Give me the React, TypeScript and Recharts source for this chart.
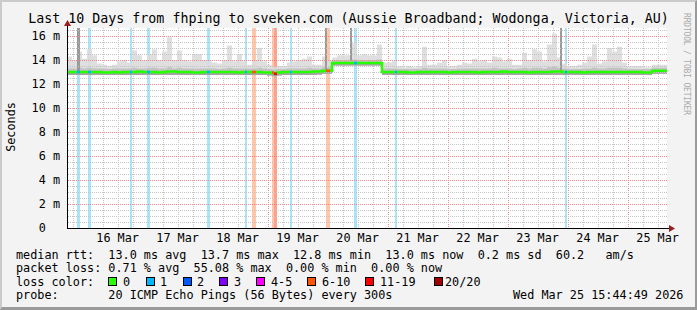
import React from 'react';
import {
  ComposedChart,
  Area,
  Line,
  XAxis,
  YAxis,
  ReferenceArea,
  CartesianGrid,
} from 'recharts';

const FONT = '"DejaVu Sans Mono", monospace';

// time axis in "day of March"; graph ends Wed Mar 25 15:44:49, covers 10 days
const END = 25 + (15 + 44 / 60 + 49 / 3600) / 24;
const START = END - 10;
const STEP = 1 / 12; // 2-hour bins

// ---- data (one value per 2 h bin) ----
const smokeHi = [
  14.3, 14.0, 14.7, 14.1, 14.9, 14.4, 13.7, 13.6, 13.5, 13.6,
  13.9, 14.0, 13.8, 14.8, 14.4, 14.0, 14.5, 14.9, 14.0, 14.7,
  15.9, 14.0, 14.8, 14.0, 13.9, 14.5, 14.5, 14.0, 13.9, 13.8,
  13.7, 14.0, 15.2, 13.9, 14.5, 13.9, 13.6, 14.0, 15.0, 13.9,
  13.6, 13.4, 13.5, 13.5, 13.8, 13.9, 14.0, 14.1, 14.3, 13.6,
  13.6, 14.3, 14.0, 14.2, 14.4, 14.4, 14.4, 15.4, 14.4, 14.5,
  14.4, 14.4, 15.3, 13.8, 13.8, 13.9, 13.5, 13.4, 13.5, 13.4,
  13.5, 15.1, 13.6, 13.6, 13.8, 14.0, 13.5, 13.5, 13.6, 13.8,
  13.7, 14.1, 13.9, 14.0, 13.8, 14.3, 14.2, 13.9, 14.1, 13.6,
  13.6, 14.6, 14.0, 14.9, 14.7, 13.9, 15.3, 16.2, 14.2, 13.7,
  13.5, 13.5, 13.6, 13.8, 14.3, 15.3, 13.7, 13.9, 15.0, 14.7,
  15.1, 13.8, 13.5, 13.5, 13.5, 13.4, 13.4, 13.6, 13.6, 13.6,
];

const smokeMid = [
  13.3, 13.3, 13.35, 13.3, 13.35, 13.3, 13.3, 13.3, 13.25, 13.3,
  13.3, 13.3, 13.3, 13.35, 13.3, 13.3, 13.35, 13.35, 13.3, 13.3,
  13.4, 13.3, 13.35, 13.3, 13.3, 13.3, 13.3, 13.3, 13.3, 13.3,
  13.25, 13.3, 13.35, 13.3, 13.3, 13.3, 13.3, 13.3, 13.35, 13.3,
  13.25, 13.2, 13.25, 13.25, 13.3, 13.3, 13.3, 13.3, 13.35, 13.3,
  13.3, 13.4, 13.4, 14.0, 14.0, 14.0, 14.0, 14.05, 14.0, 14.0,
  14.0, 14.0, 14.05, 13.3, 13.3, 13.3, 13.25, 13.25, 13.25, 13.25,
  13.25, 13.35, 13.3, 13.3, 13.3, 13.3, 13.25, 13.25, 13.3, 13.3,
  13.3, 13.3, 13.3, 13.3, 13.3, 13.35, 13.3, 13.3, 13.3, 13.25,
  13.3, 13.35, 13.3, 13.35, 13.35, 13.3, 13.4, 13.45, 13.35, 13.3,
  13.25, 13.25, 13.25, 13.3, 13.3, 13.35, 13.3, 13.3, 13.35, 13.35,
  13.35, 13.3, 13.25, 13.25, 13.25, 13.25, 13.25, 13.35, 13.35, 13.35,
];

const smokeLo = [
  12.75, 12.75, 12.75, 12.75, 12.75, 12.75, 12.75, 12.75, 12.75, 12.75,
  12.75, 12.75, 12.75, 12.75, 12.75, 12.75, 12.75, 12.75, 12.75, 12.75,
  12.75, 12.75, 12.75, 12.75, 12.75, 12.75, 12.75, 12.75, 12.75, 12.75,
  12.75, 12.75, 12.75, 12.75, 12.75, 12.75, 12.75, 12.75, 12.75, 12.75,
  12.7, 12.65, 12.7, 12.75, 12.75, 12.75, 12.75, 12.75, 12.75, 12.75,
  12.8, 12.85, 12.85, 13.55, 13.55, 13.55, 13.55, 13.55, 13.55, 13.55,
  13.55, 13.55, 13.55, 12.75, 12.75, 12.75, 12.75, 12.75, 12.75, 12.75,
  12.75, 12.75, 12.75, 12.75, 12.75, 12.75, 12.75, 12.75, 12.75, 12.75,
  12.75, 12.75, 12.75, 12.75, 12.75, 12.75, 12.75, 12.75, 12.75, 12.75,
  12.75, 12.75, 12.75, 12.75, 12.75, 12.75, 12.75, 12.75, 12.75, 12.75,
  12.75, 12.75, 12.75, 12.75, 12.75, 12.75, 12.75, 12.75, 12.75, 12.75,
  12.75, 12.75, 12.75, 12.75, 12.75, 12.75, 12.75, 12.85, 12.85, 12.85,
];

const smokeDark = [
  12.92, 12.92, 12.92, 12.92, 12.92, 12.92, 12.92, 12.88, 12.88, 12.92,
  12.88, 12.92, 12.92, 12.92, 12.95, 12.92, 12.92, 12.92, 12.88, 12.92,
  12.95, 12.95, 12.92, 12.92, 12.92, 12.88, 12.88, 12.92, 12.92, 12.92,
  12.92, 12.92, 12.92, 12.92, 12.88, 12.92, 12.92, 12.92, 12.92, 12.88,
  12.88, 12.82, 12.88, 12.92, 12.92, 12.92, 12.92, 12.92, 12.92, 12.95,
  12.95, 13.0, 13.0, 13.68, 13.68, 13.68, 13.68, 13.68, 13.68, 13.68,
  13.68, 13.68, 13.68, 12.92, 12.92, 12.92, 12.92, 12.92, 12.88, 12.88,
  12.92, 12.92, 12.92, 12.92, 12.92, 12.92, 12.88, 12.92, 12.92, 12.92,
  12.92, 12.92, 12.88, 12.92, 12.92, 12.92, 12.92, 12.95, 12.92, 12.92,
  12.92, 12.92, 12.88, 12.92, 12.92, 12.92, 12.92, 12.95, 12.95, 12.92,
  12.92, 12.92, 12.92, 12.88, 12.92, 12.92, 12.92, 12.92, 12.92, 12.92,
  12.92, 12.92, 12.92, 12.92, 12.92, 12.88, 12.88, 13.0, 13.0, 13.0,
];

const medianRtt = [
  13.0, 13.0, 13.0, 13.0, 13.0, 13.0, 13.0, 12.95, 12.95, 13.0,
  12.95, 13.0, 13.0, 13.0, 13.05, 13.0, 13.0, 13.0, 12.95, 13.0,
  13.05, 13.05, 13.0, 13.0, 13.0, 12.95, 12.95, 13.0, 13.0, 13.0,
  13.0, 13.0, 13.0, 13.0, 12.95, 13.0, 13.0, 13.0, 13.0, 12.95,
  12.95, 12.9, 12.95, 13.0, 13.0, 13.0, 13.0, 13.0, 13.0, 13.05,
  13.05, 13.1, 13.1, 13.75, 13.75, 13.75, 13.75, 13.75, 13.75, 13.75,
  13.75, 13.75, 13.75, 13.0, 13.0, 13.0, 13.0, 13.0, 12.95, 12.95,
  13.0, 13.0, 13.0, 13.0, 13.0, 13.0, 12.95, 13.0, 13.0, 13.0,
  13.0, 13.0, 12.95, 13.0, 13.0, 13.0, 13.0, 13.05, 13.0, 13.0,
  13.0, 13.0, 12.95, 13.0, 13.0, 13.0, 13.0, 13.05, 13.05, 13.0,
  13.0, 13.0, 13.0, 12.95, 13.0, 13.0, 13.0, 13.0, 13.0, 13.0,
  13.0, 13.0, 13.0, 13.0, 13.0, 12.95, 12.95, 13.1, 13.1, 13.1,
];

// loss periods (day of March), their loss class and the median at that time
const lossFrom = [15.6561, 15.8228, 16.0061, 16.7061, 16.9894, 17.9894, 18.6228, 18.7394, 19.0728, 19.1061, 19.3728, 19.9728, 20.4394, 21.1228, 23.9561];
const lossTo = [15.6894, 15.8728, 16.0561, 16.7394, 17.0394, 18.0394, 18.6561, 18.8061, 19.1061, 19.1561, 19.4061, 20.0394, 20.4894, 21.1561, 23.9894];
const lossLevel = ['1', '1', '1', '1', '1', '1', '1', '6-10', '6-10', '11-19', '1', '6-10', '1', '1', '1'];
const lossMedian = [13.0, 13.0, 13.0, 13.0, 13.0, 13.0, 13.0, 13.0, 12.95, 12.85, 13.0, 13.1, 13.75, 13.0, 13.0];

// dark smoke columns reaching the top
const spikeFrom = [15.8228, 19.9561, 20.3728, 23.8728];
const spikeTo = [15.8728, 19.9894, 20.4061, 23.9061];
const spikeBase = [13.1, 13.2, 13.9, 13.1];

// axes
const Y_TOP = 16.6667;
const Y_PX = 1 / 12; // one pixel in y units (12 px per ms)
const yTicks = [0, 2, 4, 6, 8, 10, 12, 14, 16];
const yTickLabels = ['0', '2 m', '4 m', '6 m', '8 m', '10 m', '12 m', '14 m', '16 m'];
const dayLabelTicks = [16.5, 17.5, 18.5, 19.5, 20.5, 21.5, 22.5, 23.5, 24.5, 25.5];
const dayLabels = ['16 Mar', '17 Mar', '18 Mar', '19 Mar', '20 Mar', '21 Mar', '22 Mar', '23 Mar', '24 Mar', '25 Mar'];
const midnights = [16, 17, 18, 19, 20, 21, 22, 23, 24, 25];

// legend text
const title = 'Last 10 Days from fhping to sveken.com (Aussie Broadband; Wodonga, Victoria, AU)';
const legendLine1 = 'median rtt:  13.0 ms avg  13.7 ms max  12.8 ms min  13.0 ms now  0.2 ms sd  60.2   am/s';
const legendLine2 = 'packet loss: 0.71 % avg  55.08 % max  0.00 % min  0.00 % now';
const legendLine3 = 'loss color:';
const lossColorNames = ['0', '1', '2', '3', '4-5', '6-10', '11-19', '20/20'];
const lossColorValues = ['#26ff00', '#00b8ff', '#0059ff', '#7e00ff', '#ff00ff', '#ff5500', '#ff0000', '#a10000'];
const probeLine = 'probe:       20 ICMP Echo Pings (56 Bytes) every 300s';
const stampLine = 'Wed Mar 25 15:44:49 2026';

const stripeColor: Record<string, string> = { '1': '#a8e5fa', '6-10': '#ffc6aa', '11-19': '#ffa08e' };
const markColor: Record<string, string> = { '1': '#00b8ff', '6-10': '#ff5500', '11-19': '#ff0000' };

function buildRows() {
  const rows: any[] = smokeHi.map((h, i) => ({
    t: START + i * STEP,
    light: [smokeLo[i], h],
    mid: [smokeLo[i], smokeMid[i]],
    dark: [smokeLo[i], smokeDark[i]],
    med: medianRtt[i],
  }));
  const last = rows[rows.length - 1];
  rows.push({ ...last, t: END });
  return rows;
}

const minorX: number[] = [];
for (let q = 60; q <= 104; q++) {
  const d = q / 4;
  if (d > START && d < END && q % 4 !== 0) minorX.push(d);
}
const minorY: number[] = [];
for (let k = 1; k <= 33; k++) {
  const v = k / 2;
  if (v < Y_TOP && v % 2 !== 0) minorY.push(v);
}
const majorY = [2, 4, 6, 8, 10, 12, 14, 16];

const applyScale = (s: any, v: number) => {
  if (!s) return NaN;
  let r: any = NaN;
  try {
    if (typeof s === 'function') r = s(v);
    else if (typeof s.map === 'function') r = s.map(v);
    else if (typeof s.apply === 'function') r = s.apply(v);
  } catch (e) {
    r = NaN;
  }
  return typeof r === 'number' ? r : NaN;
};
const genX = (vals: number[]) => (p: any) => {
  const s = p && p.xAxis && p.xAxis.scale;
  return vals.map((v) => Math.round(applyScale(s, v)) + 0.5).filter((n) => Number.isFinite(n));
};

const XTick = (props: any) => {
  const { x, y, payload } = props;
  const i = dayLabelTicks.findIndex((d) => Math.abs(d - payload.value) < 1e-6);
  return (
    <text x={x} y={y + 14} textAnchor="middle" fontFamily={FONT} fontSize={11.8} fill="#000">
      {i >= 0 ? dayLabels[i] : ''}
    </text>
  );
};

const YTick = (props: any) => {
  const { x, y, payload } = props;
  const i = yTicks.findIndex((d) => Math.abs(d - payload.value) < 1e-6);
  const label = i >= 0 ? yTickLabels[i] : '';
  const shift = label.endsWith(' m') ? 0 : 14.2;
  return (
    <text x={x - 7 - shift} y={y + 4} textAnchor="end" fontFamily={FONT} fontSize={11.8} fill="#000">
      {label}
    </text>
  );
};

const legendSquareX = [108, 146, 183, 219, 256, 307, 365, 434];
const legendLabelX = [123, 160, 197, 234, 271, 322, 380, 445];

export default function App() {
  const rows = buildRows();
  return (
    <div style={{ position: 'absolute', left: 0, top: 0, width: 697, height: 310, background: '#f3f3f3', overflow: 'hidden' }}>
      <svg width={0} height={0} style={{ position: 'absolute' }}>
        <defs>
          <pattern id="gridDotGray" patternUnits="userSpaceOnUse" x={0} y={0} width={2} height={2}>
            <rect x={0} y={0} width={1} height={2} fill="#c4c4c4" />
          </pattern>
          <pattern id="gridDotRed" patternUnits="userSpaceOnUse" x={0} y={0} width={2} height={2}>
            <rect x={0} y={0} width={1} height={2} fill="#f08a8a" />
          </pattern>
        </defs>
      </svg>
      <ComposedChart width={697} height={310} data={rows} margin={{ top: 28, right: 30, bottom: 52, left: 7 }}>
        <CartesianGrid horizontal={false} vertical={false} fill="#ffffff" fillOpacity={1} />
        <CartesianGrid
          horizontal={false}
          verticalCoordinatesGenerator={genX(minorX)}
          stroke="#c4c4c4"
          strokeDasharray="1 1"
          fill="none"
        />
        <CartesianGrid
          horizontal={false}
          verticalCoordinatesGenerator={genX(midnights)}
          stroke="#f08a8a"
          strokeDasharray="1 1"
          fill="none"
        />
        <XAxis
          type="number"
          dataKey="t"
          domain={[START, END]}
          allowDataOverflow
          ticks={dayLabelTicks}
          interval={0}
          tick={<XTick />}
          tickLine={false}
          tickSize={0}
          tickMargin={0}
          height={30}
          axisLine={{ stroke: '#000', shapeRendering: 'crispEdges' }}
        />
        <YAxis
          type="number"
          domain={[0, Y_TOP]}
          allowDataOverflow
          ticks={yTicks}
          interval={0}
          tick={<YTick />}
          tickLine={false}
          tickSize={0}
          tickMargin={0}
          width={60}
          axisLine={{ stroke: '#000', shapeRendering: 'crispEdges' }}
        />
        {lossFrom.map((f, i) => (
          <ReferenceArea
            key={'s' + i}
            x1={f}
            x2={lossTo[i]}
            y1={0}
            y2={Y_TOP}
            fill={stripeColor[lossLevel[i]]}
            fillOpacity={1}
            stroke="none"
            zIndex={10}
            shapeRendering="crispEdges"
          />
        ))}
        <Area type="stepAfter" dataKey="light" stroke="none" fill="#dcdcdc" fillOpacity={0.9} isAnimationActive={false} dot={false} activeDot={false} />
        <Area type="stepAfter" dataKey="mid" stroke="none" fill="#c2c2c2" fillOpacity={1} isAnimationActive={false} dot={false} activeDot={false} />
        <Area type="stepAfter" dataKey="dark" stroke="none" fill="#a4a4a4" fillOpacity={1} isAnimationActive={false} dot={false} activeDot={false} />
        {spikeFrom.map((f, i) => (
          <ReferenceArea
            key={'k' + i}
            x1={f}
            x2={spikeTo[i]}
            y1={spikeBase[i]}
            y2={Y_TOP}
            fill="#9a9a9a"
            fillOpacity={1}
            stroke="none"
            zIndex={110}
            shapeRendering="crispEdges"
          />
        ))}
        {minorY.map((v) => (
          <ReferenceArea
            key={'gy' + v}
            x1={START}
            x2={END}
            y1={v - Y_PX}
            y2={v}
            fill="url(#gridDotGray)"
            fillOpacity={1}
            stroke="none"
            zIndex={120}
            shapeRendering="crispEdges"
          />
        ))}
        {majorY.map((v) => (
          <ReferenceArea
            key={'gY' + v}
            x1={START}
            x2={END}
            y1={v - Y_PX}
            y2={v}
            fill="url(#gridDotRed)"
            fillOpacity={1}
            stroke="none"
            zIndex={121}
            shapeRendering="crispEdges"
          />
        ))}
        <Line
          type="stepAfter"
          dataKey="med"
          stroke="#26ff00"
          strokeWidth={2.5}
          dot={false}
          activeDot={false}
          isAnimationActive={false}
        />
        {lossFrom.map((f, i) => (
          <ReferenceArea
            key={'m' + i}
            x1={f}
            x2={lossTo[i]}
            y1={lossMedian[i] - 0.11}
            y2={lossMedian[i] + 0.11}
            fill={markColor[lossLevel[i]]}
            fillOpacity={1}
            stroke="none"
            zIndex={410}
          />
        ))}
      </ComposedChart>
      <svg style={{ position: 'absolute', left: 0, top: 0 }} width={697} height={310}>
        <line x1={667} y1={228.5} x2={671} y2={228.5} stroke="#000" strokeWidth={1} />
        <polygon points="669,225 675,228.5 669,232" fill="#9a1c1c" />
        <line x1={67.5} y1={28} x2={67.5} y2={24} stroke="#000" strokeWidth={1} />
        <polygon points="64,26 67.5,20 71,26" fill="#9a1c1c" />
        <text x={348.5} y={23} textAnchor="middle" fontFamily={FONT} fontSize={13.3} fill="#000">
          {title}
        </text>
        <text transform="translate(15,127) rotate(-90)" textAnchor="middle" fontFamily={FONT} fontSize={11.8} fill="#000">
          Seconds
        </text>
        <text
          transform="translate(684,13) rotate(90)"
          fontFamily={FONT}
          fontSize={8}
          fill="#aaaaaa"
          textLength={102}
          lengthAdjust="spacing"
        >
          RRDTOOL / TOBI OETIKER
        </text>
        <text x={16} y={258.5} fontFamily={FONT} fontSize={11.8} fill="#000" style={{ whiteSpace: 'pre' }}>
          {legendLine1}
        </text>
        <text x={16} y={272} fontFamily={FONT} fontSize={11.8} fill="#000" style={{ whiteSpace: 'pre' }}>
          {legendLine2}
        </text>
        <text x={16} y={285.5} fontFamily={FONT} fontSize={11.8} fill="#000" style={{ whiteSpace: 'pre' }}>
          {legendLine3}
        </text>
        {lossColorNames.map((n, i) => (
          <g key={n}>
            <rect x={legendSquareX[i] + 0.5} y={277.5} width={8} height={8} fill={lossColorValues[i]} stroke="#000" strokeWidth={1} />
            <text x={legendLabelX[i]} y={285.5} fontFamily={FONT} fontSize={11.8} fill="#000">
              {n}
            </text>
          </g>
        ))}
        <text x={16} y={298.5} fontFamily={FONT} fontSize={11.8} fill="#000" style={{ whiteSpace: 'pre' }}>
          {probeLine}
        </text>
        <text x={513} y={298.5} fontFamily={FONT} fontSize={11.8} fill="#000" style={{ whiteSpace: 'pre' }}>
          {stampLine}
        </text>
      </svg>
      <div
        style={{
          position: 'absolute',
          left: 0,
          top: 0,
          width: 697,
          height: 310,
          boxSizing: 'border-box',
          borderTop: '2px solid #cbcbcb',
          borderLeft: '2px solid #cbcbcb',
          borderRight: '2px solid #9a9a9a',
          borderBottom: '3px solid #9a9a9a',
          pointerEvents: 'none',
        }}
      />
    </div>
  );
}
